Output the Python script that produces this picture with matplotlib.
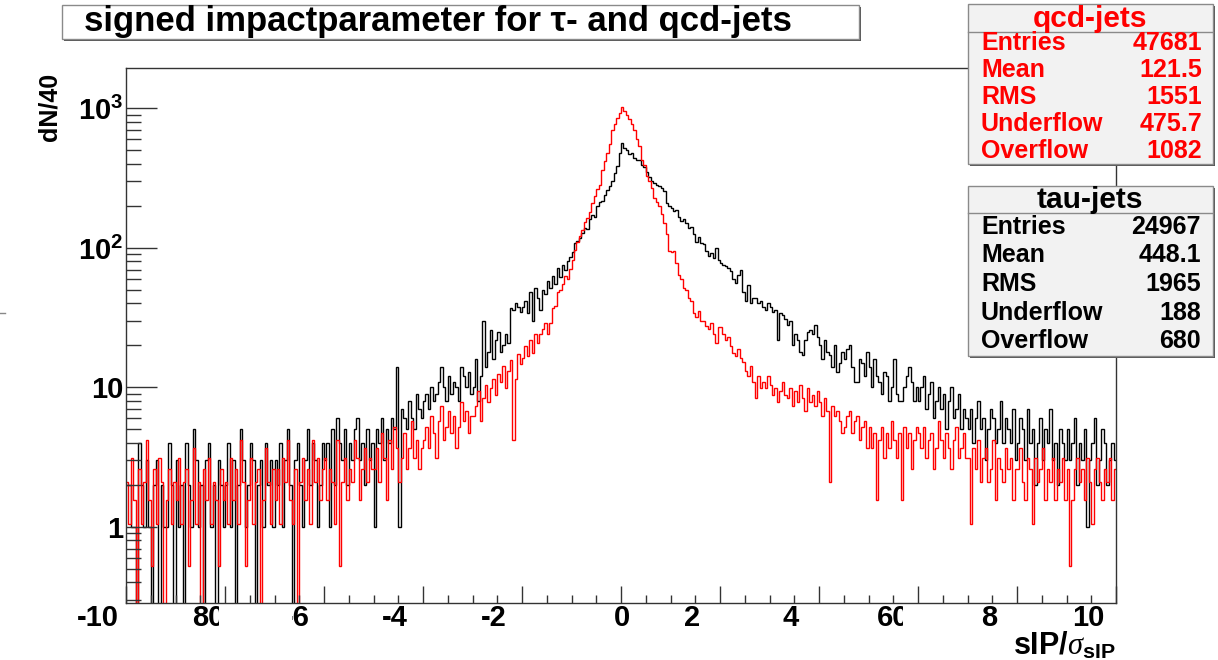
import numpy as np
import matplotlib
matplotlib.use("Agg")
import matplotlib.pyplot as plt
from matplotlib.patches import Rectangle
from matplotlib.lines import Line2D
from matplotlib.ticker import MultipleLocator, FixedLocator, FixedFormatter, LogLocator, NullFormatter
from matplotlib.transforms import Bbox

plt.rcParams['font.family'] = ['Liberation Sans', 'DejaVu Sans']
plt.rcParams['mathtext.fontset'] = 'custom'
plt.rcParams['mathtext.rm'] = 'Liberation Sans'
plt.rcParams['mathtext.bf'] = 'Liberation Sans:bold'
plt.rcParams['mathtext.it'] = 'Liberation Serif:italic'

# ---------------- data ----------------
X_MIN, X_MAX, N_BINS = -10.0, 10.0, 400
QCD_ENTRIES = 47681
TAU_ENTRIES = 24967
QCD_NORM = TAU_ENTRIES / QCD_ENTRIES   # qcd histogram normalised to tau entries

tau_counts = [
    # -10 .. -9
    2, 2, 1, 1, 0, 4, 2, 1, 3, 1, 0, 2, 3, 0, 2, 1, 1, 4, 2, 0,
    # -9 .. -8
    3, 1, 2, 0, 4, 2, 1, 5, 3, 1, 2, 0, 3, 4, 1, 2, 0, 3, 2, 1,
    # -8 .. -7
    2, 4, 1, 3, 0, 2, 5, 3, 1, 2, 4, 3, 0, 2, 3, 1, 4, 2, 3, 1,
    # -7 .. -6
    3, 2, 4, 1, 3, 5, 2, 0, 3, 4, 2, 1, 3, 5, 2, 4, 3, 1, 2, 4,
    # -6 .. -5
    3, 4, 1, 5, 2, 6, 4, 3, 5, 2, 4, 3, 5, 6, 3, 4, 2, 5, 3, 4,
    # -5 .. -4
    1, 5, 4, 6, 3, 5, 4, 6, 5, 14, 1, 7, 6, 5, 8, 6, 5, 9, 7, 6,
    # -4 .. -3
    8, 9, 7, 10, 8, 9, 11, 14, 10, 8, 12, 9, 11, 10, 8, 14, 12, 10, 13, 9,
    # -3 .. -2
    10, 16, 8, 12, 30, 14, 18, 26, 16, 22, 25, 18, 20, 24, 21, 37, 36, 40, 38, 35,
    # -2 .. -1
    38, 42, 34, 48, 30, 52, 44, 36, 50, 47, 58, 52, 63, 55, 72, 62, 76, 70, 80, 86,
    # -1 .. 0
    94, 108, 112, 118, 128, 140, 137, 160, 172, 168, 200, 212, 218, 238, 262, 280, 300, 345, 390, 480,
    # 0 .. 1
    566, 520, 505, 470, 480, 440, 425, 430, 395, 380, 350, 320, 300, 290, 285, 280, 270, 255, 210, 200,
    # 1 .. 2
    192, 185, 188, 168, 155, 160, 150, 138, 142, 125, 110, 120, 108, 106, 95, 88, 92, 85, 100, 82,
    # 2 .. 3
    78, 76, 74, 72, 68, 60, 56, 64, 70, 48, 42, 54, 40, 44, 44, 40, 42, 38, 36, 40,
    # 3 .. 4
    38, 35, 36, 22, 34, 33, 31, 28, 30, 20, 24, 22, 18, 17, 22, 25, 26, 24, 28, 23,
    # 4 .. 5
    20, 16, 22, 18, 17, 14, 20, 13, 15, 18, 16, 19, 20, 14, 11, 11, 16, 15, 12, 18,
    # 5 .. 6
    14, 10, 16, 12, 11, 9, 13, 12, 8, 10, 16, 9, 8, 8, 10, 12, 14, 11, 8, 10,
    # 6 .. 7
    8, 10, 12, 7, 9, 11, 6, 8, 10, 7, 9, 5, 8, 10, 6, 7, 9, 5, 7, 6,
    # 7 .. 8
    5, 7, 4, 6, 8, 5, 6, 3, 5, 7, 6, 4, 5, 8, 4, 6, 5, 4, 7, 3,
    # 8 .. 9
    4, 6, 5, 3, 7, 4, 5, 2, 4, 6, 3, 5, 4, 7, 3, 4, 2, 5, 4, 3,
    # 9 .. 10
    5, 3, 4, 6, 2, 4, 3, 5, 1, 3, 4, 6, 2, 3, 5, 4, 2, 3, 4, 3,
]

qcd_counts = [
    # -10 .. -9
    4, 2, 6, 3, 0, 5, 2, 4, 8, 3, 1, 5, 2, 6, 4, 0, 3, 5, 2, 4,
    # -9 .. -8
    3, 6, 2, 4, 5, 1, 3, 7, 2, 4, 0, 5, 3, 6, 2, 4, 3, 1, 5, 3,
    # -8 .. -7
    4, 2, 6, 3, 5, 2, 8, 4, 1, 3, 6, 2, 4, 5, 0, 3, 7, 4, 2, 5,
    # -7 .. -6
    3, 5, 2, 6, 4, 8, 3, 2, 5, 0, 4, 6, 3, 5, 2, 8, 4, 6, 3, 5,
    # -6 .. -5
    6, 3, 5, 4, 2, 8, 1, 4, 6, 3, 5, 4, 8, 6, 3, 5, 7, 4, 6, 5,
    # -5 .. -4
    5, 7, 4, 9, 6, 3, 8, 5, 10, 7, 4, 6, 9, 5, 7, 11, 6, 8, 5, 7,
    # -4 .. -3
    8, 10, 7, 12, 9, 6, 11, 14, 8, 10, 13, 9, 12, 7, 10, 15, 11, 13, 9, 12,
    # -3 .. -2
    12, 14, 18, 11, 16, 20, 15, 19, 22, 17, 24, 21, 27, 19, 25, 30, 8, 22, 33, 28,
    # -2 .. -1
    31, 38, 32, 42, 34, 46, 40, 46, 50, 55, 46, 55, 71, 73, 92, 95, 105, 120, 115, 134,
    # -1 .. 0
    157, 185, 210, 233, 256, 292, 315, 348, 401, 449, 506, 544, 688, 802, 917, 1070, 1337, 1471, 1623, 1776,
    # 0 .. 1
    1948, 1833, 1719, 1604, 1471, 1337, 1146, 1031, 821, 745, 630, 573, 516, 439, 411, 382, 334, 286, 239, 181,
    # 1 .. 2
    178, 181, 149, 122, 115, 99, 95, 84, 80, 65, 61, 67, 57, 57, 53, 50, 55, 46, 40, 52,
    # 2 .. 3
    52, 46, 42, 44, 38, 34, 32, 36, 31, 29, 25, 23, 27, 21, 16, 23, 19, 21, 19, 23,
    # 3 .. 4
    20, 17, 19, 15, 18, 21, 17, 16, 19, 14, 18, 15, 20, 16, 13, 19, 15, 17, 14, 18,
    # 4 .. 5
    15, 12, 16, 13, 4, 14, 12, 13, 11, 9, 10, 12, 13, 9, 11, 12, 8, 10, 11, 7,
    # 5 .. 6
    10, 7, 9, 3, 8, 10, 6, 9, 7, 11, 8, 6, 9, 3, 10, 7, 9, 5, 8, 10,
    # 6 .. 7
    9, 7, 10, 6, 8, 9, 5, 7, 11, 8, 6, 9, 7, 5, 8, 10, 6, 7, 9, 6,
    # 7 .. 8
    6, 2, 7, 5, 8, 4, 6, 7, 4, 5, 8, 3, 6, 5, 4, 7, 5, 6, 3, 5,
    # 8 .. 9
    5, 7, 4, 3, 6, 5, 2, 6, 4, 5, 7, 3, 5, 4, 6, 3, 5, 4, 6, 3,
    # 9 .. 10
    5, 1, 3, 5, 6, 4, 5, 3, 6, 4, 2, 5, 6, 4, 3, 5, 4, 6, 3, 5,
]

stat_labels = ["Entries", "Mean", "RMS", "Underflow", "Overflow"]
qcd_stats = ["47681", "121.5", "1551", "475.7", "1082"]
tau_stats = ["24967", "448.1", "1965", "188", "680"]

title_text = "signed impactparameter for \u03c4- and qcd-jets"
y_label = "dN/40"
x_label = r"$\mathbf{sIP/}\sigma_{\mathbf{sIP}}$"
xtick_texts = ["-10", "80", "-6", "-4", "-2", "0", "2", "4", "60", "8", "10"]
ytick_values = [1, 10, 100, 1000]
ytick_texts = ["1", "10", r"$\mathbf{10^{2}}$", r"$\mathbf{10^{3}}$"]

# ---------------- figure ----------------
W, H = 1218, 660
fig = plt.figure(figsize=(W / 100, H / 100), dpi=100)
fig.patch.set_facecolor('white')

def fx(px):
    return px / W

def fy(py):
    return 1 - py / H

ax = fig.add_axes([fx(126), fy(603), fx(1116) - fx(126), fy(68) - fy(603)])
ax.set_yscale('log', nonpositive='clip')

edges = np.linspace(X_MIN, X_MAX, N_BINS + 1)
tau = np.array(tau_counts, dtype=float)
qcd = np.array(qcd_counts, dtype=float) * QCD_NORM

ax.stairs(tau, edges, baseline=None, color='black', lw=1.0)
ax.stairs(qcd, edges, baseline=None, color='#ff0000', lw=1.0)

ax.set_xlim(X_MIN, X_MAX)
ax.set_ylim(0.285, 1950)

for s in ['top', 'right', 'left', 'bottom']:
    ax.spines[s].set_color('#333333')
    ax.spines[s].set_linewidth(1.0)

ax.xaxis.set_major_locator(MultipleLocator(2))
ax.xaxis.set_minor_locator(MultipleLocator(0.5))
ax.tick_params(axis='x', which='major', direction='in', length=12.2, width=1.0,
               color='#333333', labelbottom=False, top=False)
ax.tick_params(axis='x', which='minor', direction='in', length=5.8, width=1.0,
               color='#333333', top=False)

ax.yaxis.set_major_locator(FixedLocator(ytick_values))
ax.yaxis.set_major_formatter(FixedFormatter(ytick_texts))
ax.yaxis.set_minor_locator(LogLocator(base=10, subs=np.arange(2, 10)))
ax.yaxis.set_minor_formatter(NullFormatter())
ax.tick_params(axis='y', which='major', direction='in', length=22, width=1.0,
               color='#333333', right=False, pad=2, labelsize=21)
ax.tick_params(axis='y', which='minor', direction='in', length=11, width=1.0,
               color='#333333', right=False)
for lab in ax.get_yticklabels():
    lab.set_fontweight('bold')

# x tick labels (as rendered in the original, with clipped glyphs)
xtick_px = [98, 208, 297, 395, 494, 622, 692, 791, 893, 989, 1088]
xtick_clip = [None, (0, 219), (292, W), None, None, None, None, None, (0, 903), None, None]
for txt, px, clip in zip(xtick_texts, xtick_px, xtick_clip):
    t = fig.text(fx(px), fy(618), txt, ha='center', va='center',
                 fontsize=21, fontweight='bold', color='black')
    if clip is not None:
        t.set_clip_box(Bbox.from_extents(clip[0], 0, clip[1], H))
        t.set_clip_on(True)

# axis labels
fig.text(fx(1116), fy(646), x_label, ha='right', va='center', fontsize=22, color='black')
fig.text(fx(50), fy(107), y_label, ha='center', va='center', rotation=90,
         fontsize=18, fontweight='bold', color='black')

# ---------------- title box ----------------
def box(x0, y0, x1, y1, face):
    fig.patches.append(Rectangle((fx(x0 + 2), fy(y1 + 2)), fx(x1) - fx(x0), fy(y0) - fy(y1),
                                 transform=fig.transFigure, facecolor='#555555',
                                 edgecolor='none', zorder=5))
    fig.patches.append(Rectangle((fx(x0), fy(y1)), fx(x1) - fx(x0), fy(y0) - fy(y1),
                                 transform=fig.transFigure, facecolor=face,
                                 edgecolor='#8a8a8a', lw=1.0, zorder=6))

box(62, 5, 859, 39, 'white')
fig.text(fx(438), fy(22), title_text, ha='center', va='center', fontsize=25,
         fontweight='bold', color='black', zorder=7)

# ---------------- stats boxes ----------------
def stats_box(y0, y1, title_y, line_y, row_ys, name, values, color, val_x):
    box(968, y0, 1213, y1, '#f2f2f2')
    fig.lines.append(Line2D([fx(968), fx(1213)], [fy(line_y), fy(line_y)],
                            transform=fig.transFigure, color='#8a8a8a', lw=1.0, zorder=7))
    fig.text(fx(1090), fy(title_y), name, ha='center', va='center', fontsize=21.5,
             fontweight='bold', color=color, zorder=8)
    for lab, val, ry in zip(stat_labels, values, row_ys):
        fig.text(fx(981), fy(ry), lab, ha='left', va='center', fontsize=18,
                 fontweight='bold', color=color, zorder=8)
        fig.text(fx(val_x), fy(ry), val, ha='right', va='center', fontsize=18,
                 fontweight='bold', color=color, zorder=8)

stats_box(4, 164, 19, 32, [43, 70, 97, 124, 151], "qcd-jets", qcd_stats, '#ff0000', 1202)
stats_box(186, 356, 200, 213, [227, 255, 284, 313, 341], "tau-jets", tau_stats, 'black', 1201)

# small stray mark at the left edge
fig.lines.append(Line2D([fx(0), fx(5)], [fy(313), fy(313)], transform=fig.transFigure,
                        color='#888888', lw=1.0))

fig.savefig("out.png", dpi=100, facecolor='white')
